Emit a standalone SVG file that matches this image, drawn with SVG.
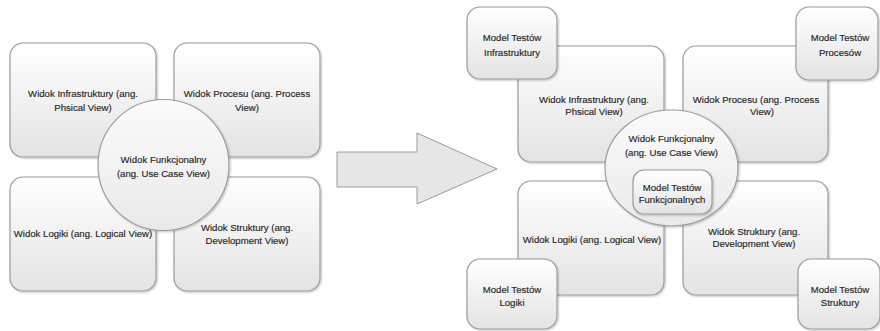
<svg xmlns="http://www.w3.org/2000/svg" width="880" height="331" viewBox="0 0 880 331">
  <defs>
    <linearGradient id="boxFill" x1="0" y1="0" x2="0" y2="1">
      <stop offset="0" stop-color="#ffffff"/>
      <stop offset="1" stop-color="#e3e3e3"/>
    </linearGradient>
    <linearGradient id="circleFill" x1="0" y1="0" x2="0" y2="1">
      <stop offset="0" stop-color="#fbfbfb"/>
      <stop offset="1" stop-color="#e9e9e9"/>
    </linearGradient>
    <filter id="shadow" x="-10%" y="-10%" width="125%" height="125%">
      <feGaussianBlur in="SourceAlpha" stdDeviation="1.2"/>
      <feOffset dx="0.8" dy="1.2" result="b"/>
      <feComponentTransfer><feFuncA type="linear" slope="0.25"/></feComponentTransfer>
      <feMerge><feMergeNode/><feMergeNode in="SourceGraphic"/></feMerge>
    </filter>
  </defs>
  <style>
    .box { fill: url(#boxFill); stroke: #9c9c9c; stroke-width: 1.2; filter: url(#shadow); }
    .hub { fill: url(#circleFill); stroke: #9c9c9c; stroke-width: 1.2; filter: url(#shadow); }
    .arrow { fill: #e6e6e6; stroke: #9a9a9a; stroke-width: 1; }
    text { font-family: "Liberation Sans", Arial, sans-serif; font-size: 9.6px; fill: #1f1f1f; stroke: #1f1f1f; stroke-width: 0.15; text-anchor: middle; }
  </style>
  <rect width="880" height="331" fill="#ffffff"/>

  <!-- Left: 4+1 views -->
  <g id="left-views">
    <g id="l-infra">
      <rect class="box" x="10" y="43" width="146" height="114" rx="13"/>
      <text x="83" y="96.5">Widok Infrastruktury (ang.</text>
      <text x="83" y="110.5">Phsical View)</text>
    </g>
    <g id="l-process">
      <rect class="box" x="174" y="43" width="146" height="114" rx="13"/>
      <text x="247" y="96.5">Widok Procesu (ang. Process</text>
      <text x="247" y="110.5">View)</text>
    </g>
    <g id="l-logic">
      <rect class="box" x="10" y="177" width="146" height="114" rx="13"/>
      <text x="83" y="236.5">Widok Logiki (ang. Logical View)</text>
    </g>
    <g id="l-structure">
      <rect class="box" x="174" y="177" width="146" height="114" rx="13"/>
      <text x="247" y="231">Widok Struktury (ang.</text>
      <text x="247" y="243.5">Development View)</text>
    </g>
    <g id="l-functional">
      <circle class="hub" cx="163.5" cy="165" r="65.5"/>
      <text x="163.5" y="163">Widok Funkcjonalny</text>
      <text x="163.5" y="176.5">(ang. Use Case View)</text>
    </g>
  </g>

  <!-- Transition arrow -->
  <g id="connectors">
    <polygon class="arrow" points="337,152 417,152 417,133 497,169 417,204 417,187 337,187"/>
  </g>

  <!-- Right: views with test models -->
  <g id="right-views">
    <g id="r-infra">
      <rect class="box" x="518" y="46" width="146" height="116" rx="13"/>
      <text x="594" y="102.5">Widok Infrastruktury (ang.</text>
      <text x="594" y="114.5">Phsical View)</text>
    </g>
    <g id="r-process">
      <rect class="box" x="683" y="46" width="145" height="116" rx="13"/>
      <text x="756" y="102.5">Widok Procesu (ang. Process</text>
      <text x="762" y="114.5">View)</text>
    </g>
    <g id="r-logic">
      <rect class="box" x="518" y="181" width="146" height="114" rx="13"/>
      <text x="592" y="242.5">Widok Logiki (ang. Logical View)</text>
    </g>
    <g id="r-structure">
      <rect class="box" x="683" y="181" width="145" height="114" rx="13"/>
      <text x="754" y="235">Widok Struktury (ang.</text>
      <text x="754" y="246.5">Development View)</text>
    </g>
    <g id="r-functional">
      <ellipse class="hub" cx="671.5" cy="168" rx="66.5" ry="58"/>
      <text x="671.5" y="141.5">Widok Funkcjonalny</text>
      <text x="671.5" y="155.5">(ang. Use Case View)</text>
    </g>
    <g id="t-functional">
      <rect class="box" x="633" y="170" width="79" height="44" rx="11"/>
      <text x="672" y="190.5">Model Testów</text>
      <text x="672" y="202.5">Funkcjonalnych</text>
    </g>
    <g id="t-infra">
      <rect class="box" x="467" y="7" width="90" height="72" rx="13"/>
      <text x="512" y="40.5">Model Testów</text>
      <text x="512" y="56">Infrastruktury</text>
    </g>
    <g id="t-process">
      <rect class="box" x="796" y="7" width="82" height="73" rx="13"/>
      <text x="840" y="40.5">Model Testów</text>
      <text x="840" y="56">Procesów</text>
    </g>
    <g id="t-logic">
      <rect class="box" x="467" y="259" width="90" height="70" rx="13"/>
      <text x="512" y="292.5">Model Testów</text>
      <text x="512" y="305.5">Logiki</text>
    </g>
    <g id="t-structure">
      <rect class="box" x="798" y="259" width="82" height="70" rx="13"/>
      <text x="840" y="292.5">Model Testów</text>
      <text x="840" y="305.5">Struktury</text>
    </g>
  </g>
</svg>
